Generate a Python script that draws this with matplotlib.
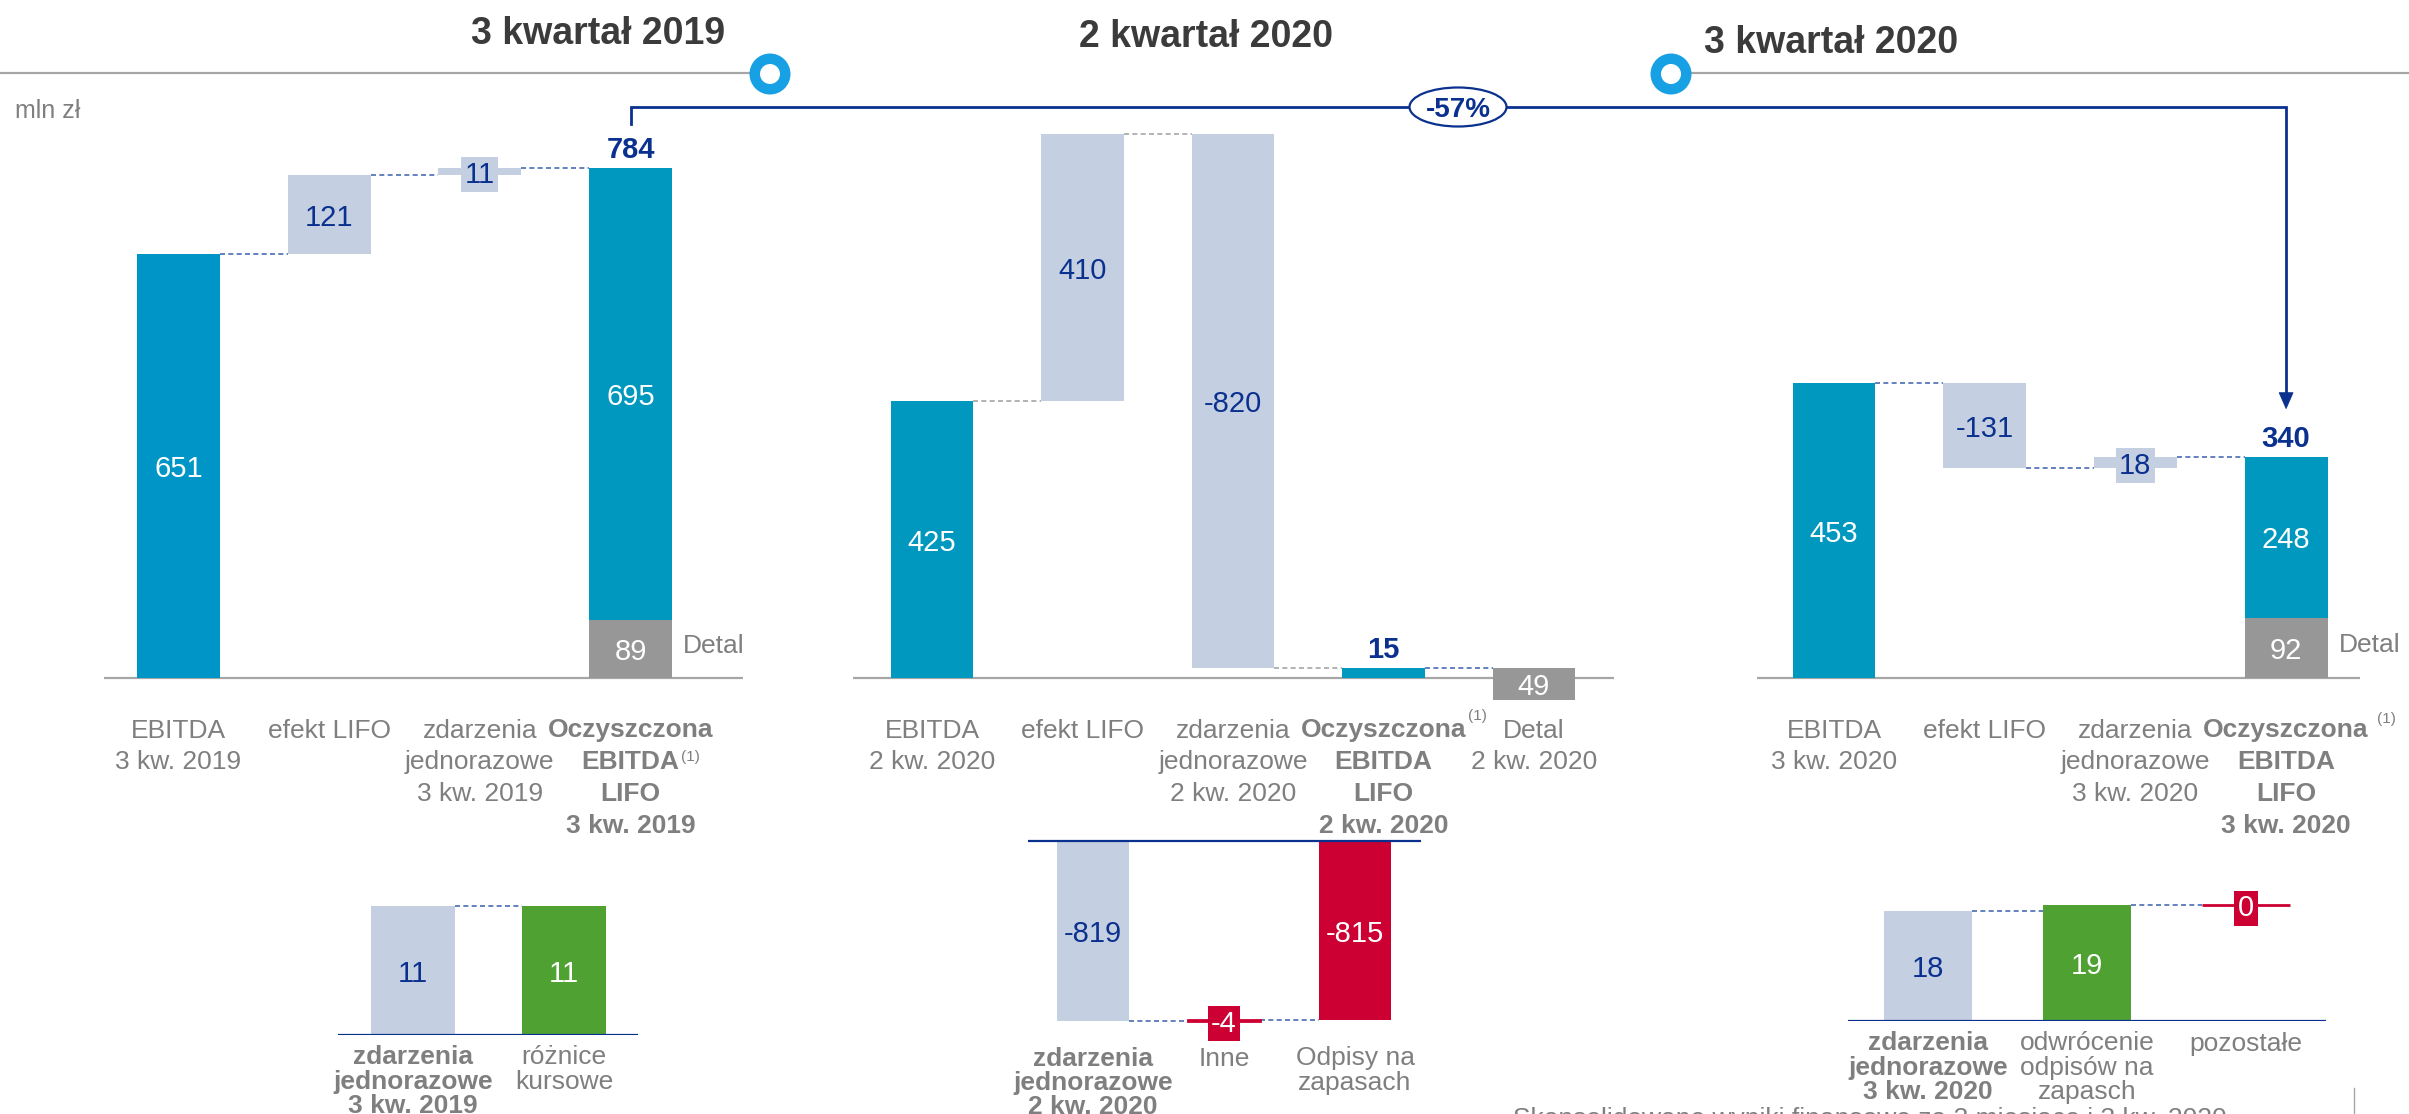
import matplotlib
matplotlib.use("Agg")
import matplotlib.pyplot as plt
from matplotlib.patches import Circle, Ellipse, Polygon

plt.rcParams['font.family'] = ['Liberation Sans', 'DejaVu Sans']

W, H = 2409, 1114

# colours
BLUE = '#0098BE'
BLUE_EB19 = '#0095C7'
LIGHT = '#C4CFE1'
GREY = '#979797'
GREEN = '#4FA232'
RED = '#CC0033'
NAVY = '#0B318F'
LABEL = '#7F7F7F'
TITLE = '#3B3B3B'
RULE = '#A6A6A6'
RING = '#17A0E4'
DASH_BLUE = '#4A6CB3'
DASH_GREY = '#A5A5A5'

# --- data, mln zł ---
titles = ['3 kwartał 2019', '2 kwartał 2020', '3 kwartał 2020']
change_label = '-57%'
unit_label = 'mln zł'

q319_ebitda = 651
q319_steps = [121, 11]            # efekt LIFO, zdarzenia jednorazowe
q319_clean = 784
q319_retail = 89
q319_other = 695
q319_cats = ['EBITDA\n3 kw. 2019', 'efekt LIFO', 'zdarzenia\njednorazowe\n3 kw. 2019',
             'Oczyszczona\nEBITDA\nLIFO\n3 kw. 2019']

q220_ebitda = 425
q220_steps = [410, -820]
q220_clean = 15
q220_retail = 49
q220_cats = ['EBITDA\n2 kw. 2020', 'efekt LIFO', 'zdarzenia\njednorazowe\n2 kw. 2020',
             'Oczyszczona\nEBITDA\nLIFO\n2 kw. 2020', 'Detal\n2 kw. 2020']

q320_ebitda = 453
q320_steps = [-131, 18]
q320_clean = 340
q320_retail = 92
q320_other = 248
q320_cats = ['EBITDA\n3 kw. 2020', 'efekt LIFO', 'zdarzenia\njednorazowe\n3 kw. 2020',
             'Oczyszczona\nEBITDA\nLIFO\n3 kw. 2020']

# one-off events broken down
q319_oneoff = 11
q319_parts = [11]
q319_part_cats = ['zdarzenia\njednorazowe\n3 kw. 2019', 'różnice\nkursowe']
q220_oneoff = -819
q220_parts = [-4, -815]
q220_part_cats = ['zdarzenia\njednorazowe\n2 kw. 2020', 'Inne', 'Odpisy na\nzapasach']
q320_oneoff = 18
q320_parts = [19, 0]
q320_part_cats = ['zdarzenia\njednorazowe\n3 kw. 2020', 'odwrócenie\nodpisów na\nzapasch', 'pozostałe']

footer = 'Skonsolidowane wyniki finansowe za 3 miesiące i 3 kw. 2020'

BAR_W = 0.55

fig = plt.figure(figsize=(W / 100, H / 100), dpi=100)
overlay = fig.add_axes([0, 0, 1, 1])
overlay.set_xlim(0, W)
overlay.set_ylim(H, 0)
overlay.axis('off')


def panel_axes(left, right, top, bottom, base, scale, c0, step):
    # pixel box -> axes; x in bar slots, y in mln zł
    ax = fig.add_axes([left / W, 1 - bottom / H, (right - left) / W, (bottom - top) / H])
    ax.set_xlim((left - c0) / step, (right - c0) / step)
    ax.set_ylim(-(bottom - base) / scale, (base - top) / scale)
    ax.axis('off')
    return ax


def to_overlay(ax, x, y):
    return overlay.transData.inverted().transform(ax.transData.transform((x, y)))


def value_text(ax, x, y, v, color, box=None, size=21):
    kw = {}
    if box:
        kw['bbox'] = dict(boxstyle='square,pad=0.12', fc=box, ec='none')
    ax.text(x, y, f'{v}', ha='center', va='center_baseline', color=color,
            fontsize=size, zorder=5, **kw)


def total_text(ax, x, v):
    ax.annotate(f'{v}', xy=(x, v), xytext=(0, 15), textcoords='offset points',
                ha='center', va='center_baseline', color=NAVY, fontsize=21,
                fontweight='bold', annotation_clip=False)


def connector(ax, i, level, color):
    ax.plot([i + BAR_W / 2, i + 1 - BAR_W / 2], [level, level], color=color,
            lw=1.2, ls=(0, (3, 2)), zorder=1, clip_on=False)


def cat_label(ax, x, text, bold=False, first=14.4, step=23, note=None):
    lines = []
    for k, line in enumerate(text.split('\n')):
        t = ax.annotate(line, xy=(x, 0), xycoords=('data', 'axes fraction'),
                        xytext=(0, -(first + k * step)), textcoords='offset points',
                        ha='center', va='center_baseline', fontsize=19, color=LABEL,
                        fontweight='bold' if bold else 'normal', annotation_clip=False)
        lines.append(t)
    if note is not None:
        k, dx, dy = note
        ax.annotate('(1)', xy=(1, 1), xycoords=lines[k], xytext=(dx, dy),
                    textcoords='offset points', ha='left', va='top',
                    fontsize=11, color=LABEL)


def steps_waterfall(ax, ebitda, steps, ebitda_color, dash_colors):
    ax.axhline(0, color=RULE, lw=1.6, zorder=1.5)
    ax.bar(0, ebitda, width=BAR_W, color=ebitda_color, lw=0, zorder=2)
    value_text(ax, 0, ebitda / 2, ebitda, 'white')
    level = ebitda
    levels = [level]
    for i, s in enumerate(steps, start=1):
        ax.bar(i, s, bottom=level, width=BAR_W, color=LIGHT, lw=0, zorder=2)
        value_text(ax, i, level + s / 2, s, NAVY, box=LIGHT if abs(s) < 40 else None)
        level += s
        levels.append(level)
    for i, lv in enumerate(levels):
        connector(ax, i, lv, dash_colors[i])
    return level


def side_note(ax, x, y, text):
    ax.annotate(text, xy=(x + BAR_W / 2, y), xytext=(8, 4), textcoords='offset points',
                ha='left', va='center_baseline', fontsize=19, color=LABEL)


def breakdown(ax, total, parts, colors, cats, from_zero, first, step):
    ax.axhline(0, color=NAVY, lw=1.6, zorder=3)
    ax.bar(0, total, width=BAR_W, color=LIGHT, lw=0, zorder=2)
    value_text(ax, 0, total / 2, total, NAVY)
    level = 0 if from_zero else total
    links = [total]
    for i, (p, c) in enumerate(zip(parts, colors), start=1):
        h = p if from_zero else -p
        small = abs(p) * ax.transData.get_matrix()[1, 1] < 30
        ax.bar(i, h, bottom=level, width=BAR_W, color=c, ec=c,
               lw=2.0 if small else 0, zorder=2)
        value_text(ax, i, level + h / 2, p, 'white', box=c if small else None)
        level += h
        links.append(level)
    for i in range(len(parts)):
        connector(ax, i, links[i], DASH_BLUE)
    for i, c in enumerate(cats):
        cat_label(ax, i, c, bold=(i == 0), first=first, step=step)


# main panels
ax1 = panel_axes(104, 743, 100, 708, 678, 0.651, 178.5, 150.7)
ax2 = panel_axes(853, 1614, 100, 708, 678, 0.651, 932, 150.5)
ax3 = panel_axes(1757, 2360, 100, 708, 678, 0.651, 1834, 150.7)

# 3 kw. 2019
level = steps_waterfall(ax1, q319_ebitda, q319_steps, BLUE_EB19, [DASH_BLUE] * 3)
n = len(q319_steps) + 1
ax1.bar(n, q319_retail, width=BAR_W, color=GREY, lw=0, zorder=2)
ax1.bar(n, q319_other, bottom=q319_retail, width=BAR_W, color=BLUE, lw=0, zorder=2)
value_text(ax1, n, q319_retail / 2, q319_retail, 'white')
value_text(ax1, n, q319_retail + q319_other / 2, q319_other, 'white')
total_text(ax1, n, q319_clean)
side_note(ax1, n, q319_retail / 2, 'Detal')
for i, c in enumerate(q319_cats):
    cat_label(ax1, i, c, bold=(i == n), note=(1, 1, 0) if i == n else None)

# 2 kw. 2020
level = steps_waterfall(ax2, q220_ebitda, q220_steps, BLUE,
                        [DASH_GREY, DASH_GREY, DASH_GREY])
n = len(q220_steps) + 1
ax2.bar(n, q220_clean, width=BAR_W, color=BLUE, lw=0, zorder=2)
total_text(ax2, n, q220_clean)
ax2.bar(n + 1, q220_retail, bottom=q220_clean - q220_retail, width=BAR_W, color=GREY, lw=0, zorder=2)
value_text(ax2, n + 1, q220_clean - q220_retail / 2, q220_retail, 'white')
connector(ax2, n, q220_clean, DASH_BLUE)
for i, c in enumerate(q220_cats):
    cat_label(ax2, i, c, bold=(i == n), note=(0, 1, 7) if i == n else None)

# 3 kw. 2020
level = steps_waterfall(ax3, q320_ebitda, q320_steps, BLUE, [DASH_BLUE] * 3)
n = len(q320_steps) + 1
ax3.bar(n, q320_retail, width=BAR_W, color=GREY, lw=0, zorder=2)
ax3.bar(n, q320_other, bottom=q320_retail, width=BAR_W, color=BLUE, lw=0, zorder=2)
value_text(ax3, n, q320_retail / 2, q320_retail, 'white')
value_text(ax3, n, q320_retail + q320_other / 2, q320_other, 'white')
total_text(ax3, n, q320_clean)
side_note(ax3, n, q320_retail / 2, 'Detal')
for i, c in enumerate(q320_cats):
    cat_label(ax3, i, c, bold=(i == n), note=(0, 6, 5) if i == n else None)

# one-off breakdowns
sub1 = panel_axes(338, 638, 880, 1035, 1035, 11.7, 413, 151)
sub2 = panel_axes(1028, 1421, 835, 1036, 841, 0.22, 1093, 131)
sub3 = panel_axes(1848, 2326, 880, 1021, 1021, 6.1, 1928, 159)
breakdown(sub1, q319_oneoff, q319_parts, [GREEN], q319_part_cats, False, 14.4, 17.3)
breakdown(sub2, q220_oneoff, q220_parts, [RED, RED], q220_part_cats, False, 14.4, 17.3)
breakdown(sub3, q320_oneoff, q320_parts, [GREEN, RED], q320_part_cats, True, 14.4, 17.3)

# header: timeline with quarter titles
rule_y = 73
rings = [(770, 74), (1671, 74)]
overlay.plot([0, rings[0][0] - 20], [rule_y, rule_y], color=RULE, lw=1.6)
overlay.plot([rings[1][0] + 20, W], [rule_y, rule_y], color=RULE, lw=1.6)
for cx, cy in rings:
    overlay.add_patch(Circle((cx, cy), 20.5, fc=RING, ec='none', zorder=4))
    overlay.add_patch(Circle((cx, cy), 10, fc='white', ec='none', zorder=5))
for t, (x, y) in zip(titles, [(598, 30), (1206, 33), (1831, 39)]):
    overlay.text(x, y, t, ha='center', va='center_baseline', fontsize=27,
                 fontweight='bold', color=TITLE)
overlay.text(15, 108, unit_label, ha='left', va='center_baseline', fontsize=18, color=LABEL)

# change between clean EBITDA 3 kw. 2019 and 3 kw. 2020
xa, ya = to_overlay(ax1, 3, q319_clean)
xb, yb = to_overlay(ax3, 3, q320_clean)
link_y = 107
overlay.plot([xa, xa, xb, xb], [ya - 44, link_y, link_y, yb - 64], color=NAVY, lw=2,
             solid_joinstyle='miter', zorder=3)
overlay.add_patch(Polygon([(xb - 7, yb - 64), (xb + 7, yb - 64), (xb, yb - 48)],
                          closed=True, fc=NAVY, ec=NAVY, lw=0.5, zorder=3))
overlay.add_patch(Ellipse((1458, link_y), 97, 39, fc='white', ec=NAVY, lw=1.6, zorder=4))
overlay.text(1458, link_y, change_label, ha='center', va='center_baseline', fontsize=20,
             fontweight='bold', color=NAVY, zorder=5)

# footer, cut by the page edge
overlay.text(1513, 1126, footer, ha='left', va='baseline', fontsize=19, color=LABEL)
overlay.plot([2354, 2354], [1088, H], color=RULE, lw=1)

fig.savefig('out.png', dpi=100)
